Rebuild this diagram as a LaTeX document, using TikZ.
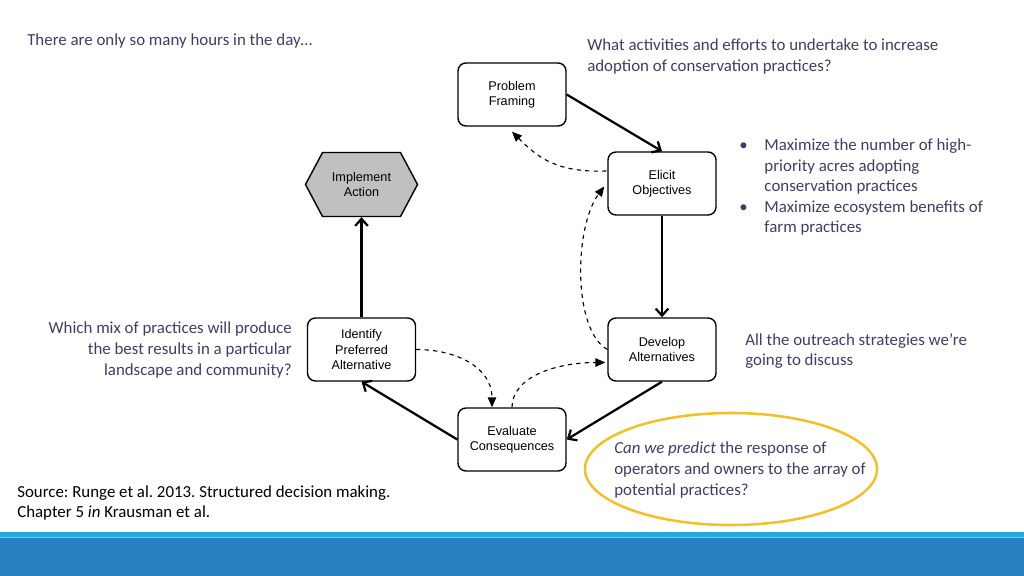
\documentclass[tikz,border=0pt]{standalone}
\usepackage{fontspec}
\setmainfont{Carlito}
\newfontfamily\boxfont{Liberation Sans}
\usetikzlibrary{arrows.meta,shapes.symbols,calc}
\definecolor{notetext}{RGB}{62,62,100}
\definecolor{ringgold}{RGB}{242,192,40}
\definecolor{bandlight}{RGB}{33,168,222}
\definecolor{banddark}{RGB}{38,128,194}
\definecolor{hexgray}{RGB}{192,192,192}
\frenchspacing
\begin{document}
\begin{tikzpicture}[x=0.025cm,y=-0.025cm,
  stage/.style={draw,line width=1pt,rounded corners=0.2cm,minimum width=2.7cm,minimum height=1.575cm,align=center,font=\boxfont\fontsize{9}{11}\selectfont},
  flow/.style={line width=1.6pt,-{Straight Barb[length=5pt,width=9pt]}},
  back/.style={line width=0.8pt,dashed,-{Triangle[length=7pt,width=6pt]}},
  note/.style={inner sep=0pt,text=notetext,font=\fontsize{12}{14.6}\selectfont}]
\useasboundingbox (0,0) rectangle (1024,576);
% decision cycle
\node[stage] (pf) at (512,94.5) {Problem\\Framing};
\node[stage] (eo) at (662,183.5) {Elicit\\Objectives};
\node[stage] (da) at (662,349.5) {Develop\\Alternatives};
\node[stage] (ec) at (512,439.5) {Evaluate\\Consequences};
\node[stage] (ipa) at (361.5,349.5) {Identify\\Preferred\\Alternative};
\node[draw,line width=1pt,fill=hexgray,signal,signal to=east and west,signal pointer angle=124,
  minimum width=2.8cm,minimum height=1.6cm,inner sep=0pt,align=center,font=\boxfont\fontsize{9}{11}\selectfont] (ia) at (361.5,184.5) {Implement\\Action};
% main path
\draw[flow] (pf.east) -- (eo.north);
\draw[flow] (eo.south) -- (da.north);
\draw[flow] (da.south) -- (ec.east);
\draw[flow] (ec.west) -- (ipa.south);
\draw[flow] (ipa.north) -- (ia.south);
% feedback loops
\draw[back] ($(eo.west)+(-1,-12.5)$) .. controls +(-50,2) and +(25,25) .. ($(pf.south)+(0,5)$);
\draw[back] (da.west) .. controls +(-35,-20) and +(-30,40) .. ($(eo.west)+(-3,3)$);
\draw[back] (ec.north) .. controls +(0,-30) and +(-50,0) .. ($(da.west)+(-2,13)$);
\draw[back] (ipa.east) .. controls +(40,0) and +(0,-40) .. ($(ec.north)+(-20,0)$);
% side notes
\node[note,anchor=north west] (hours) at (27,34) {There are only so many hours in the day…};
\node[note,anchor=north west,align=left] (what) at (587,39) {What activities and efforts to undertake to increase\\adoption of conservation practices?};
\node[note,anchor=north west] (goals) at (739,136) {\begin{tabular}{@{}p{0.63cm}@{}l@{}}
\textbullet & Maximize the number of high-\\
 & priority acres adopting\\
 & conservation practices\\
\textbullet & Maximize ecosystem benefits of\\
 & farm practices
\end{tabular}};
\node[note,anchor=north east,align=right] (mix) at (292,322) {Which mix of practices will produce\\the best results in a particular\\landscape and community?};
\node[note,anchor=north west,align=left] (outreach) at (745,333) {All the outreach strategies we’re\\going to discuss};
\draw[ringgold,line width=1.8pt] (731,469) ellipse (3.65cm and 1.4cm);
\node[note,anchor=north west,align=left] (predict) at (614,442) {\textit{Can we predict} the response of\\operators and owners to the array of\\potential practices?};
\node[note,text=black,anchor=north west,align=left] (source) at (17,485) {Source: Runge et al. 2013. Structured decision making.\\Chapter 5 \textit{in} Krausman et al.};
% footer band
\fill[bandlight] (0,532) rectangle (1024,537);
\fill[banddark] (0,537) rectangle (1024,576);
\fill[bandlight!60!white] (0,537) rectangle (1024,538);
\end{tikzpicture}
\end{document}
